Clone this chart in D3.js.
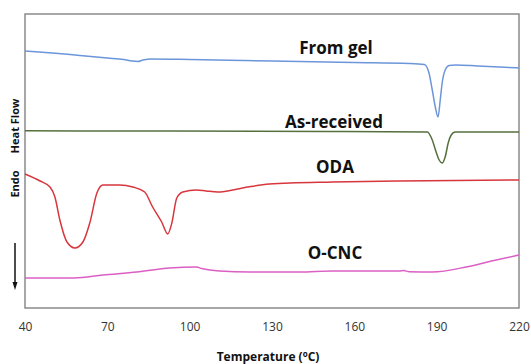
<!DOCTYPE html>
<html>
<head>
<meta charset="utf-8">
<script src="https://cdn.jsdelivr.net/npm/d3@7"></script>
<style>
  body { margin: 0; background: #fff; }
  svg { display: block; }
</style>
</head>
<body>
<div id="chart"></div>
<script>
// temperature ticks (deg C)
var xTicks = [40, 70, 100, 130, 160, 190, 220];

// heat flow traces, arbitrary units (offset stacked)
var fromGelT = [40, 50, 60, 70, 76, 79, 81, 83, 86, 100, 120, 140, 160, 180, 185.5, 187.2, 188.4, 189.5, 190.5, 191.3, 192, 193.1, 194.5, 197, 205, 220];
var fromGelV = [25.7, 25.5, 25.25, 25.0, 24.85, 24.7, 24.65, 24.8, 24.9, 24.85, 24.75, 24.65, 24.55, 24.45, 24.35, 23.5, 21.8, 20.1, 19.1, 20.8, 22.5, 23.8, 24.25, 24.3, 24.2, 24.0];

var asRecT = [40, 80, 150, 186.6, 188.4, 189.8, 190.9, 192, 193.1, 194.2, 195.3, 196.7, 205, 220];
var asRecV = [17.72, 17.7, 17.65, 17.6, 16.8, 15.6, 14.8, 14.5, 15.1, 16.5, 17.3, 17.6, 17.6, 17.6];

var odaT = [40, 45.5, 49.1, 50.9, 52.7, 55.3, 58.2, 61.1, 63.6, 66.2, 68.4, 74.5, 79.3, 83.6, 86.5, 89.8, 92, 93.5, 95.3, 97.5, 102.5, 106, 110.2, 119.3, 129, 152, 176.4, 220];
var odaV = [13.4, 12.7, 12.1, 11.1, 8.8, 6.6, 6.0, 6.6, 8.5, 11.5, 12.3, 12.3, 12.1, 11.6, 10.1, 8.6, 7.4, 8.5, 11.0, 11.6, 11.8, 11.7, 11.6, 12.0, 12.4, 12.6, 12.7, 12.8];

var ocncT = [40, 58, 68.4, 80.7, 92.7, 102.5, 104.4, 110.9, 122, 140, 152, 176.4, 178, 180, 188.4, 200.7, 210, 220];
var ocncV = [3.0, 3.0, 3.3, 3.6, 4.0, 4.1, 3.95, 3.7, 3.6, 3.6, 3.7, 3.7, 3.74, 3.63, 3.6, 4.1, 4.7, 5.3];

var seriesNames = ["From gel", "As-received", "ODA", "O-CNC"];
var seriesColors = ["#6b96da", "#55703f", "#d8363d", "#dc5fc4"];

var width = 531, height = 364;
var plotLeft = 25, plotRight = 519, plotTop = 14, plotBottom = 308;

var svg = d3.select("#chart").append("svg")
  .attr("width", width)
  .attr("height", height);

var xScale = d3.scaleLinear().domain([40, 220]).range([plotLeft, plotRight]);
var yScale = d3.scaleLinear().domain([0, 29.4]).range([plotBottom, plotTop]);

function zip(t, v) {
  return t.map(function (d, i) { return { t: d, v: v[i] }; });
}
var allSeries = [zip(fromGelT, fromGelV), zip(asRecT, asRecV), zip(odaT, odaV), zip(ocncT, ocncV)];

var line = d3.line()
  .x(function (d) { return xScale(d.t); })
  .y(function (d) { return yScale(d.v); })
  .curve(d3.curveMonotoneX);

// plot frame
svg.append("rect")
  .attr("x", plotLeft).attr("y", plotTop)
  .attr("width", plotRight - plotLeft).attr("height", plotBottom - plotTop)
  .style("fill", "none")
  .style("stroke", "#8a8a8a")
  .style("stroke-width", 1.5);

svg.selectAll(".trace")
  .data(allSeries)
  .enter()
  .append("path")
  .attr("class", "trace")
  .attr("d", line)
  .style("fill", "none")
  .style("stroke", function (d, i) { return seriesColors[i]; })
  .style("stroke-width", 1.5);

// x axis: labels only, no tick marks
var xAxis = svg.append("g")
  .attr("transform", "translate(0," + plotBottom + ")")
  .call(d3.axisBottom(xScale).tickValues(xTicks).tickSize(0).tickPadding(14));
xAxis.select(".domain").remove();
xAxis.selectAll("text")
  .style("font-family", "Open Sans")
  .style("font-size", "12px")
  .style("fill", "#333");

// series labels
var labelPos = [[336, 54], [334, 128], [335, 173], [335, 259]];
svg.selectAll(".lbl")
  .data(seriesNames)
  .enter()
  .append("text")
  .attr("class", "lbl")
  .attr("x", function (d, i) { return labelPos[i][0]; })
  .attr("y", function (d, i) { return labelPos[i][1]; })
  .attr("text-anchor", "middle")
  .style("font-family", "Open Sans")
  .style("font-weight", "bold")
  .style("font-size", "17px")
  .style("fill", "#111")
  .text(function (d) { return d; });

// axis titles
var xt = svg.append("text")
  .attr("x", 268).attr("y", 361)
  .attr("text-anchor", "middle")
  .style("font-family", "Open Sans")
  .style("font-weight", "bold")
  .style("font-size", "12px")
  .style("fill", "#111");
xt.append("tspan").text("Temperature (");
xt.append("tspan").attr("dy", -4).style("font-size", "8px").text("o");
xt.append("tspan").attr("dy", 4).text("C)");

svg.append("text")
  .attr("transform", "translate(19,126) rotate(-90)")
  .attr("text-anchor", "middle")
  .style("font-family", "Open Sans")
  .style("font-weight", "bold")
  .style("font-size", "11px")
  .style("fill", "#111")
  .text("Heat Flow");

svg.append("text")
  .attr("transform", "translate(19,184) rotate(-90)")
  .attr("text-anchor", "middle")
  .style("font-family", "Open Sans")
  .style("font-weight", "bold")
  .style("font-size", "11px")
  .style("fill", "#111")
  .text("Endo");

// endo arrow
svg.append("line")
  .attr("x1", 15).attr("x2", 15)
  .attr("y1", 243).attr("y2", 283)
  .style("stroke", "#111")
  .style("stroke-width", 1.5);
svg.append("path")
  .attr("d", "M12.5,282 L15,290 L17.5,282 Z")
  .style("fill", "#111");
</script>
</body>
</html>
